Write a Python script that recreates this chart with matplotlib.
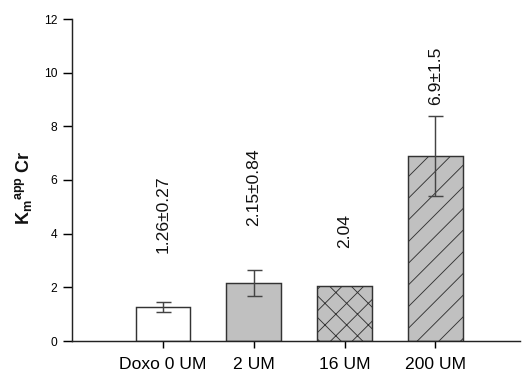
import matplotlib
matplotlib.use("Agg")
import matplotlib.pyplot as plt

categories = ["Doxo 0 UM", "2 UM", "16 UM", "200 UM"]
values = [1.26, 2.15, 2.04, 6.9]
errors = [0.18, 0.49, 0.0, 1.5]
value_labels = ["1.26\u00b10.27", "2.15\u00b10.84", "2.04", "6.9\u00b11.5"]
label_heights = [3.28, 4.29, 3.47, 8.8]
fill_colors = ["white", "#c0c0c0", "#c0c0c0", "#c0c0c0"]
hatches = [None, None, "xx", "//"]

DPI = 130
def pt(px):
    return px * 72.0 / DPI

plt.rcParams["font.family"] = ["Liberation Sans", "DejaVu Sans"]
plt.rcParams["hatch.linewidth"] = 0.5
plt.rcParams["mathtext.fontset"] = "custom"
plt.rcParams["mathtext.bf"] = "Liberation Sans:bold"
plt.rcParams["mathtext.rm"] = "Liberation Sans"

fig = plt.figure(figsize=(525 / DPI, 374 / DPI), dpi=DPI)
ax = fig.add_axes([72 / 525, 33 / 374, 448 / 525, 322 / 374])

x = list(range(len(categories)))
edge = "#333333"
for i in x:
    ax.bar(i, values[i], width=0.6, color=fill_colors[i], edgecolor=edge,
           linewidth=0.8, hatch=hatches[i], zorder=2)
    if errors[i] > 0:
        ax.errorbar(i, values[i], yerr=errors[i], fmt="none", ecolor="#444444",
                    elinewidth=0.8, capsize=pt(7.5), capthick=0.8, zorder=3)
    ax.text(i, label_heights[i], value_labels[i], rotation=90, ha="center",
            va="bottom", fontsize=pt(17.5), color="#111111")

ax.set_xlim(-1, 0.93 + 3)
ax.set_ylim(0, 12)
ax.set_yticks([0, 2, 4, 6, 8, 10, 12])
ax.set_xticks(x)
ax.set_xticklabels(categories, fontsize=pt(17.5))
ax.tick_params(axis="y", labelsize=pt(12), direction="out", length=5, width=0.8, pad=3)
ax.tick_params(axis="x", direction="out", length=4, width=0.8, pad=5)
for s in ["top", "right"]:
    ax.spines[s].set_visible(False)
for s in ["left", "bottom"]:
    ax.spines[s].set_linewidth(0.8)
    ax.spines[s].set_color("#222222")

ax.text(-0.109, 0.477, r"$\mathbf{K_m}$$^{\mathbf{app}}$ $\mathbf{Cr}$",
        rotation=90, transform=ax.transAxes, ha="center", va="center",
        fontsize=pt(18), color="#111111")

fig.savefig("out.png", dpi=DPI)
